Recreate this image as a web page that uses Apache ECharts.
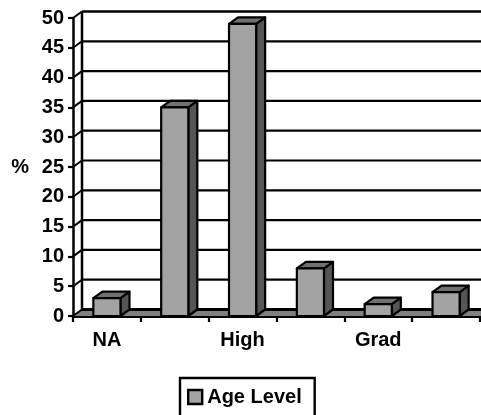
<!DOCTYPE html>
<html><head><meta charset="utf-8">
<style>html,body{margin:0;padding:0;background:#fff}#c{width:481px;height:415px}</style>
<script src="https://cdn.jsdelivr.net/npm/echarts@6/dist/echarts.min.js"></script>
</head><body><div id="c"></div>
<script>
const categories = ['NA', '', 'High', '', 'Grad', ''];
const ageLevel = [3, 35, 49, 8, 2, 4];
const yTicks = [0, 5, 10, 15, 20, 25, 30, 35, 40, 45, 50];
const FONT = '"Liberation Sans", Arial, sans-serif';
const DX = 9, DY = 6.5;
const chart = echarts.init(document.getElementById('c'), null, {renderer: 'canvas'});

function renderWall(params, api) {
  const v = api.value(0);
  const cs = params.coordSys;
  const right = cs.x + cs.width + 2;
  const y = api.coord([0, v])[1];
  const x0 = cs.x;
  const kids = [];
  const line = (a, b, c, d, w) => ({type: 'line', shape: {x1: a, y1: b, x2: c, y2: d},
    style: {stroke: '#000', lineWidth: w}});
  if (v === 0) {
    kids.push({type: 'polygon', shape: {points: [[x0, y], [x0 + DX, y - DY], [right, y - DY], [right, y]]},
      style: {fill: '#808080'}});
    kids.push(line(x0 + DX, y - DY, x0 + DX, cs.y - DY, 2.5));
    kids.push(line(x0 + DX, y - DY, right, y - DY, 2.8));
  } else {
    kids.push(line(x0 + DX, y - DY, right, y - DY, v === 50 ? 2.6 : 2.2));
  }
  kids.push(line(x0, y, x0 + DX, y - DY, 2));
  return {type: 'group', children: kids};
}

function renderBar(params, api) {
  const i = api.value(0), v = api.value(1);
  const top = api.coord([i, v]), base = api.coord([i, 0]);
  const w = api.size([1, 0])[0] * 0.4;
  const l = top[0] - w / 2, r = top[0] + w / 2, t = top[1], b = base[1];
  const edge = {stroke: '#000', lineWidth: 2.2, lineJoin: 'round'};
  return {type: 'group', children: [
    {type: 'polygon', shape: {points: [[r, t], [r + DX, t - DY], [r + DX, b - DY], [r, b]]},
      style: Object.assign({fill: '#555555'}, edge)},
    {type: 'polygon', shape: {points: [[l, t], [l + DX, t - DY], [r + DX, t - DY], [r, t]]},
      style: Object.assign({fill: '#707070'}, edge)},
    {type: 'rect', shape: {x: l, y: t, width: r - l, height: b - t},
      style: Object.assign({fill: '#a3a3a3'}, edge)}
  ]};
}

chart.setOption({
  animation: false,
  backgroundColor: '#fff',
  grid: {left: 73, right: 1, top: 18, bottom: 99, containLabel: false},
  legend: {
    data: ['Age Level'], left: 180, top: 378, orient: 'horizontal',
    padding: [9, 13, 11, 7], itemGap: 4, itemWidth: 14, itemHeight: 14,
    borderColor: '#000', borderWidth: 2.4, backgroundColor: '#fff', borderRadius: 0,
    icon: 'rect', itemStyle: {color: '#a3a3a3', borderColor: '#000', borderWidth: 2.4},
    textStyle: {fontFamily: FONT, fontWeight: 'bold', fontSize: 20, color: '#000', padding: [0, 0, 0, 0]}
  },
  xAxis: {
    type: 'category', data: categories,
    axisLine: {lineStyle: {color: '#000', width: 2.8}},
    axisTick: {show: true, alignWithLabel: false, length: 6, interval: 0, lineStyle: {color: '#000', width: 2.2}},
    axisLabel: {interval: 0, margin: 14, fontFamily: FONT, fontWeight: 'bold', fontSize: 20, color: '#000'}
  },
  yAxis: {
    type: 'value', min: 0, max: 50, interval: 5,
    name: '%', nameLocation: 'middle', nameRotate: 0, nameGap: 44,
    nameTextStyle: {fontFamily: FONT, fontWeight: 'bold', fontSize: 20, color: '#000', padding: [4, 0, 0, 0]},
    splitLine: {show: false},
    axisLine: {show: true, lineStyle: {color: '#000', width: 2.5}},
    axisTick: {show: true, length: 5, lineStyle: {color: '#000', width: 2.2}},
    axisLabel: {margin: 9, fontFamily: FONT, fontWeight: 'bold', fontSize: 20, color: '#000'}
  },
  series: [
    {type: 'custom', name: 'walls', clip: false, z: 1, silent: true,
     data: yTicks.map(v => [v]), encode: {y: 0}, renderItem: renderWall},
    {type: 'custom', name: 'Age Level', clip: false, z: 5,
     itemStyle: {color: '#a3a3a3'},
     data: ageLevel.map((v, i) => [i, v]), encode: {x: 0, y: 1}, renderItem: renderBar}
  ]
});
</script></body></html>
